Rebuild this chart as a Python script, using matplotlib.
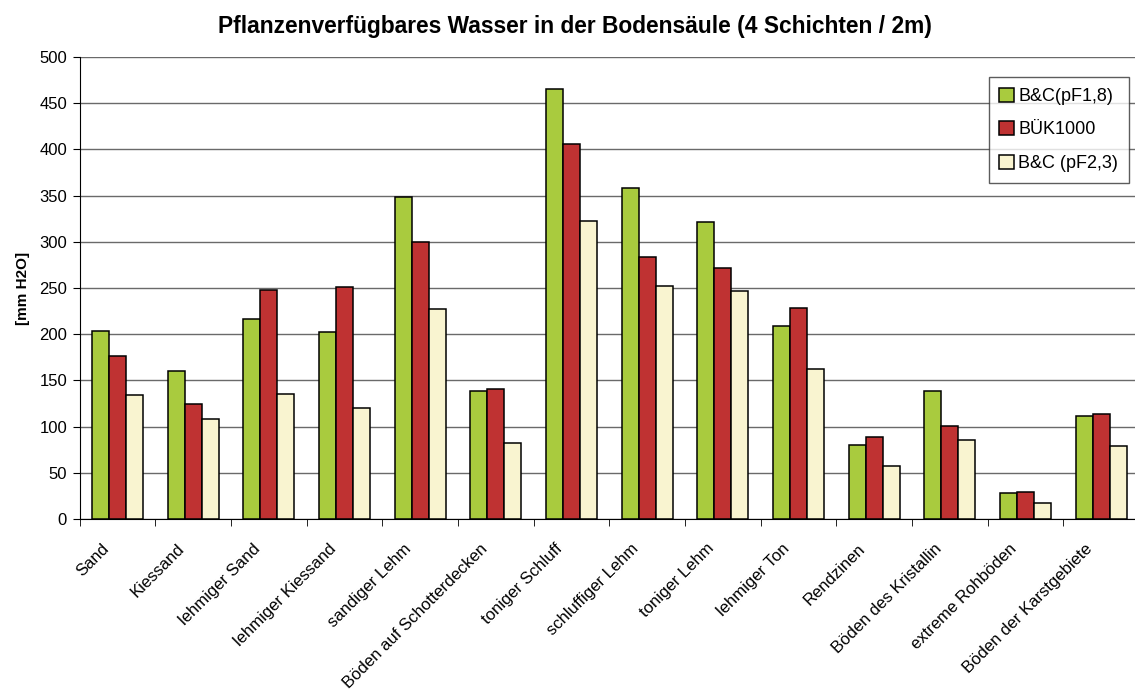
import numpy as np
import matplotlib.pyplot as plt
from matplotlib.transforms import ScaledTranslation

categories = ['Sand', 'Kiessand', 'lehmiger Sand', 'lehmiger Kiessand', 'sandiger Lehm',
              'Böden auf Schotterdecken', 'toniger Schluff', 'schluffiger Lehm', 'toniger Lehm',
              'lehmiger Ton', 'Rendzinen', 'Böden des Kristallin', 'extreme Rohböden',
              'Böden der Karstgebiete']
bc_pf18 = [204, 160, 216, 202, 348, 139, 465, 358, 321, 209, 80, 138, 28, 111]
buek1000 = [176, 124, 248, 251, 300, 141, 406, 284, 272, 228, 89, 101, 29, 114]
bc_pf23 = [134, 108, 135, 120, 227, 82, 322, 252, 247, 162, 57, 85, 17, 79]
series_names = ['B&C(pF1,8)', 'BÜK1000', 'B&C (pF2,3)']
colors = ['#A9CB3E', '#BF3232', '#F9F4D0']

plt.rcParams['font.family'] = ['Liberation Sans', 'DejaVu Sans']

fig = plt.figure(figsize=(11.35, 6.98), dpi=100)
# plot area runs slightly past the right edge of the image, as in the original
ax = fig.add_axes([79.6 / 1135, 1 - 519 / 698, (1139 - 79.6) / 1135, (519 - 57) / 698])

x = np.arange(len(categories))
w = 0.225
for i, (vals, name) in enumerate(zip([bc_pf18, buek1000, bc_pf23], series_names)):
    ax.bar(x + (i - 1) * w, vals, w, color=colors[i], edgecolor='black', linewidth=1.1,
           label=name, zorder=3)

ax.set_xlim(-0.5, len(categories) - 0.5)
ax.set_ylim(0, 500)
ax.set_yticks(range(0, 501, 50))
ax.tick_params(axis='y', labelsize=12, length=5, direction='out', pad=4)
ax.yaxis.grid(True, color='#6a6a6a', linewidth=1.0, zorder=0)
ax.set_axisbelow(True)

ax.set_xticks(x)
ax.set_xticklabels(categories, rotation=45, ha='right', va='center',
                   rotation_mode='anchor', fontsize=12)
ax.tick_params(axis='x', length=0, pad=8)
shift = ScaledTranslation(-11 / 100, -16 / 100, fig.dpi_scale_trans)
for lbl in ax.get_xticklabels():
    lbl.set_transform(lbl.get_transform() + shift)
ax.set_xticks(np.arange(-0.5, len(categories), 1), minor=True)
ax.tick_params(axis='x', which='minor', length=5, direction='out')

for s in ['top', 'right']:
    ax.spines[s].set_visible(False)
ax.spines['left'].set_color('black')
ax.spines['bottom'].set_color('black')

ax.set_ylabel('[mm H2O]', fontsize=11, fontweight='bold', labelpad=7)
fig.text(0.5 * (218 + 932) / 1135, 1 - 27 / 698,
         'Pflanzenverfügbares Wasser in der Bodensäule (4 Schichten / 2m)',
         fontsize=16.4, fontweight='bold', ha='center', va='center')

leg = ax.legend(loc='upper right', bbox_to_anchor=(1129 / 1135, 1 - 77 / 698),
                bbox_transform=fig.transFigure, borderaxespad=0,
                fontsize=13, frameon=True, fancybox=False, edgecolor='#333333',
                handlelength=0.8, handleheight=0.8, handletextpad=0.25,
                labelspacing=0.9, borderpad=0.6)
leg.get_frame().set_linewidth(1.0)

fig.savefig('out.png', dpi=100)
